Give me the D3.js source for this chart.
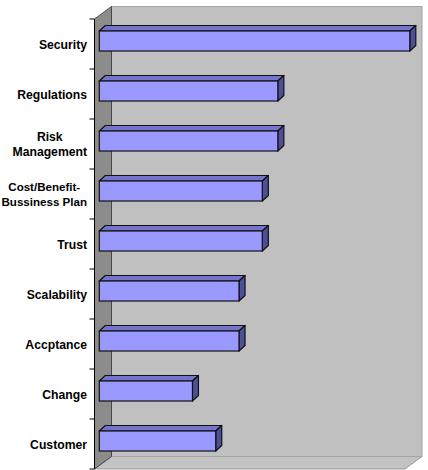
<!DOCTYPE html>
<html>
<head>
<meta charset="utf-8">
<script src="https://cdn.jsdelivr.net/npm/d3@7"></script>
<style>
	body { margin: 0; background: #fff; }
	text { font-family: "Liberation Sans", Arial, sans-serif; font-weight: bold; font-size: 12.2px; fill: #000; }
</style>
</head>
<body>
<svg id="chart"></svg>
<script>
const categories = ['Security', 'Regulations', 'Risk\nManagement', 'Cost/Benefit-\nBussiness Plan', 'Trust', 'Scalability', 'Accptance', 'Change', 'Customer']
const values = [20, 11.5, 11.5, 10.5, 10.5, 9, 9, 6, 7.5]
const valueDomain = [0, 20]

const WIDTH = 428
const HEIGHT = 470
// front plane of the plot box, and the depth of the 3d box
const PLOT = {left: 94.5, right: 405, top: 19, bottom: 469}
const DEPTH = {x: 17, y: -12.5}
// bars sit a bit behind the front plane
const BAR_OFFSET = {x: 4.8, y: -3}
const BAR_DEPTH = {x: 6, y: -5.5}
const FONT_SIZE = 12.2

const svg = d3.select('#chart')
	.attr('width', WIDTH)
	.attr('height', HEIGHT)

const x = d3.scaleLinear()
	.domain(valueDomain)
	.range([PLOT.left, PLOT.right])

const y = d3.scaleBand()
	.domain(categories)
	.range([PLOT.top, PLOT.bottom])
	.paddingInner(0.6)
	.paddingOuter(0.3)

const pts = arr => arr.map(p => p.join(',')).join(' ')

// walls
const backL = PLOT.left + DEPTH.x
const backR = PLOT.right + DEPTH.x
const backT = PLOT.top + DEPTH.y
const backB = PLOT.bottom + DEPTH.y

svg.append('polygon')
	.attr('points', pts([[PLOT.left, PLOT.bottom], [PLOT.right, PLOT.bottom], [backR, backB], [backL, backB]]))
	.attr('fill', '#c3c3c3')
	.attr('stroke', '#9a9a9a')

svg.append('rect')
	.attr('x', backL)
	.attr('y', backT)
	.attr('width', backR - backL)
	.attr('height', backB - backT)
	.attr('fill', '#c0c0c0')
	.attr('stroke', '#a4a4a4')

svg.append('polygon')
	.attr('points', pts([[PLOT.left, PLOT.top], [backL, backT], [backL, backB], [PLOT.left, PLOT.bottom]]))
	.attr('fill', '#8c8c8c')
	.attr('stroke', '#333')
	.attr('stroke-width', 0.8)

// bars
const bars = svg.append('g')
	.selectAll('g.bar')
	.data(categories.map((c, i) => ({cat: c, value: values[i]})).reverse())
	.join('g')
	.attr('class', 'bar')

const barFace = d => {
	const x0 = x(0) + BAR_OFFSET.x
	const x1 = x(d.value) + BAR_OFFSET.x
	const y0 = y(d.cat) + BAR_OFFSET.y
	const y1 = y0 + y.bandwidth()
	return {x0, x1, y0, y1}
}

bars.append('polygon')
	.attr('points', d => {
		const f = barFace(d)
		return pts([[f.x0, f.y0], [f.x1, f.y0], [f.x1 + BAR_DEPTH.x, f.y0 + BAR_DEPTH.y], [f.x0 + BAR_DEPTH.x, f.y0 + BAR_DEPTH.y]])
	})
	.attr('fill', '#7474cc')
	.attr('stroke', '#111')
	.attr('stroke-width', 1.2)
	.attr('stroke-linejoin', 'round')

bars.append('polygon')
	.attr('points', d => {
		const f = barFace(d)
		return pts([[f.x1, f.y0], [f.x1 + BAR_DEPTH.x, f.y0 + BAR_DEPTH.y], [f.x1 + BAR_DEPTH.x, f.y1 + BAR_DEPTH.y], [f.x1, f.y1]])
	})
	.attr('fill', '#4f4f93')
	.attr('stroke', '#111')
	.attr('stroke-width', 1.2)
	.attr('stroke-linejoin', 'round')

bars.append('rect')
	.attr('x', d => barFace(d).x0)
	.attr('y', d => barFace(d).y0)
	.attr('width', d => barFace(d).x1 - barFace(d).x0)
	.attr('height', y.bandwidth())
	.attr('fill', '#9999ff')
	.attr('stroke', '#111')
	.attr('stroke-width', 1.2)

// category axis: line + ticks on band boundaries
const axis = svg.append('g')
axis.append('line')
	.attr('x1', PLOT.left).attr('x2', PLOT.left)
	.attr('y1', PLOT.top).attr('y2', PLOT.bottom)
	.attr('stroke', '#000')
axis.selectAll('line.tick')
	.data(d3.range(categories.length + 1))
	.join('line')
	.attr('class', 'tick')
	.attr('x1', PLOT.left - 5).attr('x2', PLOT.left)
	.attr('y1', i => PLOT.top + i * y.step())
	.attr('y2', i => PLOT.top + i * y.step())
	.attr('stroke', '#000')

// labels, multi-line ones centred on their own block, block right aligned
const LINE_H = 15
const labels = axis.selectAll('g.label')
	.data(categories)
	.join('g')
	.attr('class', 'label')

labels.each(function (c) {
	const lines = c.split('\n')
	const cy = y(c) + y.bandwidth() / 2
	const g = d3.select(this)
	const texts = g.selectAll('text')
		.data(lines)
		.join('text')
		.attr('y', (l, i) => cy + (i - (lines.length - 1) / 2) * LINE_H + 4.5)
		.text(l => l)
	const right = PLOT.left - 7.5
	let maxW = d3.max(texts.nodes(), n => n.getComputedTextLength())
	// shrink a label that would run off the left edge
	if (maxW > right - 1.5) {
		const size = FONT_SIZE * (right - 1.5) / maxW
		texts.style('font-size', size + 'px')
		maxW = d3.max(texts.nodes(), n => n.getComputedTextLength())
	}
	texts.attr('x', right - maxW / 2)
		.attr('text-anchor', 'middle')
})
</script>
</body>
</html>
